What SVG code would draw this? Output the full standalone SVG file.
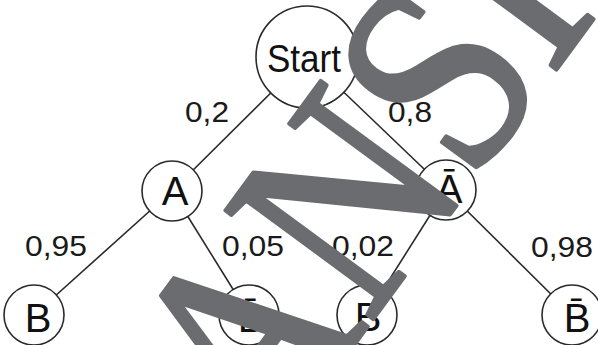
<svg xmlns="http://www.w3.org/2000/svg" width="598" height="345" viewBox="0 0 598 345">
  <style>
    .edge { stroke: #2a2a2a; stroke-width: 1.6; fill: none; }
    .node circle { fill: #ffffff; stroke: #2a2a2a; stroke-width: 1.6; }
    .node text { font-family: "Liberation Sans", Arial, sans-serif; font-size: 40px; fill: #111111; text-anchor: middle; }
    .prob { font-family: "Liberation Sans", Arial, sans-serif; font-size: 29px; fill: #1a1a1a; text-anchor: middle; }
    .wm { font-family: "Liberation Serif", "Times New Roman", serif; font-size: 280px; fill: #6b6c70; stroke: #6b6c70; stroke-width: 4; stroke-linejoin: round; }
  </style>
  <rect width="598" height="345" fill="#ffffff"/>

  <!-- branches of the tree -->
  <g id="connectors">
    <line class="edge" x1="307" y1="57" x2="172" y2="191"/>
    <line class="edge" x1="307" y1="57" x2="446" y2="190"/>
    <line class="edge" x1="172" y1="191" x2="34" y2="315"/>
    <line class="edge" x1="172" y1="191" x2="249" y2="315"/>
    <line class="edge" x1="446" y1="190" x2="367" y2="315"/>
    <line class="edge" x1="446" y1="190" x2="572" y2="315"/>
  </g>

  <!-- branch probabilities -->
  <g id="probabilities">
    <text class="prob" x="207" y="122" textLength="44" lengthAdjust="spacingAndGlyphs">0,2</text>
    <text class="prob" x="410" y="122" textLength="44" lengthAdjust="spacingAndGlyphs">0,8</text>
    <text class="prob" x="56" y="256" textLength="62" lengthAdjust="spacingAndGlyphs">0,95</text>
    <text class="prob" x="253" y="256" textLength="62" lengthAdjust="spacingAndGlyphs">0,05</text>
    <text class="prob" x="363" y="256" textLength="62" lengthAdjust="spacingAndGlyphs">0,02</text>
    <text class="prob" x="562" y="257" textLength="62" lengthAdjust="spacingAndGlyphs">0,98</text>
  </g>

  <g id="node-start" class="node">
    <circle cx="307" cy="57" r="51"/>
    <text x="304" y="72" style="font-size:38px" textLength="74" lengthAdjust="spacingAndGlyphs">Start</text>
  </g>
  <g id="node-a" class="node">
    <circle cx="172" cy="191" r="30"/>
    <text x="175" y="205">A</text>
  </g>
  <g id="node-not-a" class="node">
    <circle cx="446" cy="190" r="30"/>
    <text x="449" y="203">Ā</text>
  </g>
  <g id="node-a-b" class="node">
    <circle cx="34" cy="315" r="30"/>
    <text x="38" y="332">B</text>
  </g>
  <g id="node-a-not-b" class="node">
    <circle cx="249" cy="315" r="30"/>
    <text x="251" y="332">B̄</text>
  </g>
  <g id="node-not-a-b" class="node">
    <circle cx="367" cy="315" r="30"/>
    <text x="368" y="331">B</text>
  </g>
  <g id="node-not-a-not-b" class="node">
    <circle cx="572" cy="315" r="30"/>
    <text x="577" y="332">B̄</text>
  </g>

  <!-- diagonal preview stamp across the sheet -->
  <text class="wm" transform="translate(266,465) rotate(-53.7) scale(0.86,1)">ANSICHT</text>
</svg>
